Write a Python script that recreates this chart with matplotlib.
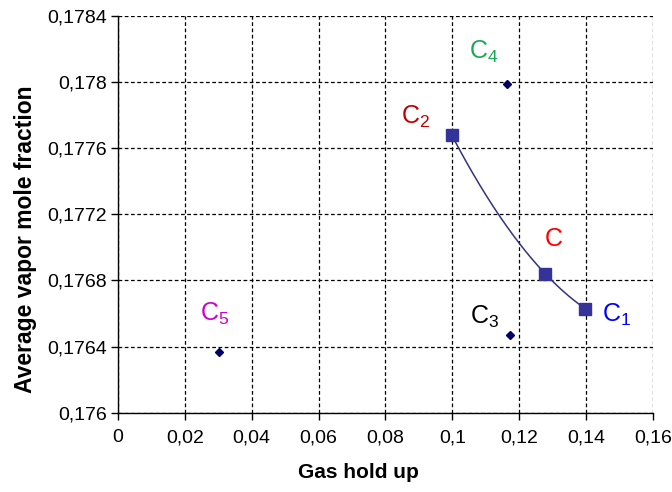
import numpy as np
import matplotlib
matplotlib.use("Agg")
import matplotlib.pyplot as plt

plt.rcParams['font.family'] = ['Liberation Sans', 'DejaVu Sans']
plt.rcParams['mathtext.fontset'] = 'custom'
plt.rcParams['mathtext.rm'] = 'Liberation Sans'
plt.rcParams['mathtext.it'] = 'Liberation Sans'

# Fitted series (squares joined by a smooth curve)
curve_names = ['C2', 'C', 'C1']
curve_x = [0.0998, 0.1278, 0.1397]
curve_y = [0.17768, 0.17684, 0.17663]

# Single cases (small diamonds)
point_names = ['C4', 'C3', 'C5']
point_x = [0.1163, 0.1173, 0.0301]
point_y = [0.17799, 0.17647, 0.17637]

# Case labels: text, position, colour
label_text = [r'$\mathregular{C_2}$', r'$\mathregular{C}$', r'$\mathregular{C_1}$',
              r'$\mathregular{C_4}$', r'$\mathregular{C_3}$', r'$\mathregular{C_5}$']
label_x = [0.0890, 0.1303, 0.1490, 0.1095, 0.1095, 0.0289]
label_y = [0.17779, 0.17705, 0.17659, 0.17818, 0.17658, 0.17660]
label_color = ['#C00000', '#FF0000', '#0000FF', '#1AAA55', '#000000', '#CC00CC']

x_ticks = [0, 0.02, 0.04, 0.06, 0.08, 0.1, 0.12, 0.14, 0.16]
x_tick_labels = ['0', '0,02', '0,04', '0,06', '0,08', '0,1', '0,12', '0,14', '0,16']
y_ticks = [0.176, 0.1764, 0.1768, 0.1772, 0.1776, 0.178, 0.1784]
y_tick_labels = ['0,176', '0,1764', '0,1768', '0,1772', '0,1776', '0,178', '0,1784']

fig = plt.figure(figsize=(6.72, 4.92), dpi=100)
ax = fig.add_axes([0.1756, 0.1612, 0.7961, 0.8063])

# Smooth curve: second-order fit passing through the three cases
coef = np.polyfit(curve_x, curve_y, 2)
sx = np.linspace(min(curve_x), max(curve_x), 200)
ax.plot(sx, np.polyval(coef, sx), color='#333380', lw=1.1, zorder=3)
ax.plot(curve_x, curve_y, ls='none', marker='s', ms=8, color='#333399',
        mec='#333399', zorder=4)
ax.plot(point_x, point_y, ls='none', marker='D', ms=4, color='#000066', zorder=4)

for t, x, y, c in zip(label_text, label_x, label_y, label_color):
    ax.text(x, y, t, color=c, fontsize=18, ha='center', va='center')

ax.set_xlim(0, 0.16)
ax.set_ylim(0.176, 0.1784)
ax.set_xticks(x_ticks)
ax.set_xticklabels(x_tick_labels)
ax.set_yticks(y_ticks)
ax.set_yticklabels(y_tick_labels)
ax.tick_params(direction='out', length=5, width=1, labelsize=14, colors='black')
ax.tick_params(axis='x', pad=7)
ax.tick_params(axis='y', pad=3)

ax.grid(True, color='black', linestyle=(0, (3, 2)), linewidth=0.9)
ax.set_axisbelow(True)
for side in ('top', 'right'):
    ax.spines[side].set_visible(False)
for side in ('left', 'bottom'):
    ax.spines[side].set_linewidth(1.0)

ax.set_xlabel('Gas hold up', fontsize=15, fontweight='bold')
ax.set_ylabel('Average vapor mole fraction', fontsize=16.5, fontweight='bold')
ax.xaxis.set_label_coords(0.449, -0.127)
ax.yaxis.set_label_coords(-0.152, 0.438)

fig.savefig('out.png', dpi=100)
